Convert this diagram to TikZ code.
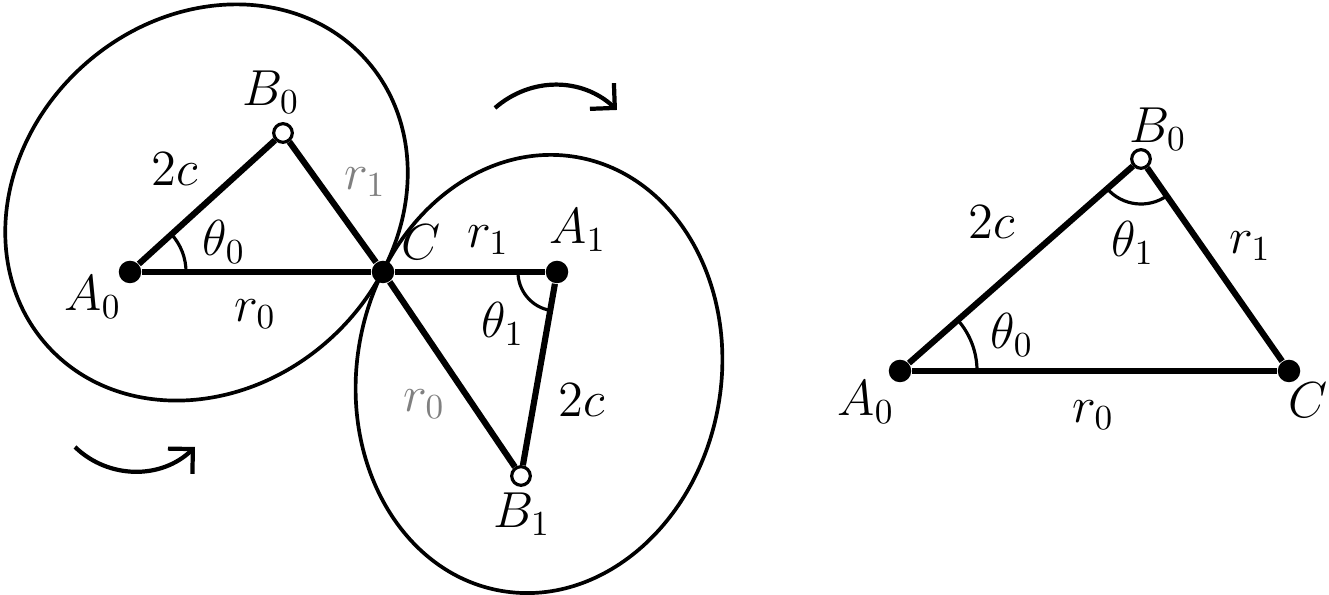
\documentclass[tikz,border=0pt]{standalone}
\usetikzlibrary{arrows.meta,angles,calc}
\definecolor{lbgray}{RGB}{128,128,128}
\begin{document}
\begin{tikzpicture}[x=0.01cm,y=0.01cm,
  fdot/.style={circle,fill=black,inner sep=0pt,minimum size=6.4pt},
  odot/.style={circle,draw=black,fill=white,line width=0.9pt,inner sep=0pt,minimum size=5.3pt},
  bar/.style={line width=1.75pt},
  oval/.style={line width=1.05pt},
  turn/.style={line width=1.2pt,-{Straight Barb[length=5pt,width=10pt,line width=1.2pt]}},
  ang/.style={draw,line width=0.9pt},
  lbl/.style={inner sep=0pt,font=\fontsize{14}{16}\selectfont},
  glbl/.style={lbl,text=lbgray}]
\useasboundingbox (0,0) rectangle (1329,595);
% ellipses
\draw[oval] (206.5,392.5) ellipse [x radius=2.14cm, y radius=1.84cm, rotate=42];
\draw[oval] (539,221) ellipse [x radius=2.20cm, y radius=1.82cm, rotate=80];
% points
\node[fdot] (A0) at (130,323) {};
\node[odot] (B0) at (283,462) {};
\node[fdot] (C) at (383,323) {};
\node[fdot] (A1) at (557,323) {};
\node[odot] (B1) at (521,119) {};
\node[fdot] (RA0) at (900,224) {};
\node[odot] (RB0) at (1141,436) {};
\node[fdot] (RC) at (1289,224) {};
% bars
\draw[bar] (A0) -- (B0);
\draw[bar] (B0) -- (C);
\draw[bar] (A0) -- (C);
\draw[bar] (C) -- (A1);
\draw[bar] (A1) -- (B1);
\draw[bar] (C) -- (B1);
\draw[bar] (RA0) -- (RB0);
\draw[bar] (RB0) -- (RC);
\draw[bar] (RA0) -- (RC);
% angles
\pic[ang,angle radius=0.56cm] {angle=C--A0--B0};
\pic[ang,angle radius=0.39cm] {angle=C--A1--B1};
\pic[ang,angle radius=0.77cm] {angle=RC--RA0--RB0};
\pic[ang,angle radius=0.45cm] {angle=RA0--RB0--RC};
% rotation arrows
\coordinate (u1) at (495,487);
\coordinate (u2) at (617,485);
\draw[turn] (u1) to[bend left=42] (u2);
\coordinate (l1) at (75,148);
\coordinate (l2) at (195,148);
\draw[turn] (l1) to[bend right=44] (l2);
% labels left
\node[lbl] (tB0) at (271,503) {$B_0$};
\node[lbl] (t2c) at (175,426) {$2c$};
\node[glbl] (tr1g) at (365,413) {$r_1$};
\node[lbl] (tth0) at (224,353) {$\theta_0$};
\node[lbl] (tC) at (421,353) {$C$};
\node[lbl] (tA0) at (93,298) {$A_0$};
\node[lbl] (tr0) at (255,281) {$r_0$};
\node[lbl] (tr1) at (488,355) {$r_1$};
\node[lbl] (tA1) at (578,365) {$A_1$};
\node[lbl] (tth1) at (503,271) {$\theta_1$};
\node[glbl] (tr0g) at (424,191) {$r_0$};
\node[lbl] (t2cb) at (582,195) {$2c$};
\node[lbl] (tB1) at (522,81) {$B_1$};
% labels right
\node[lbl] (uB0) at (1158,466) {$B_0$};
\node[lbl] (u2c) at (992,373) {$2c$};
\node[lbl] (uth1) at (1133,352) {$\theta_1$};
\node[lbl] (ur1) at (1250,349) {$r_1$};
\node[lbl] (uth0) at (1012,260) {$\theta_0$};
\node[lbl] (uA0) at (866,193) {$A_0$};
\node[lbl] (ur0) at (1093,180) {$r_0$};
\node[lbl] (uC) at (1308,195) {$C$};
\end{tikzpicture}
\end{document}
